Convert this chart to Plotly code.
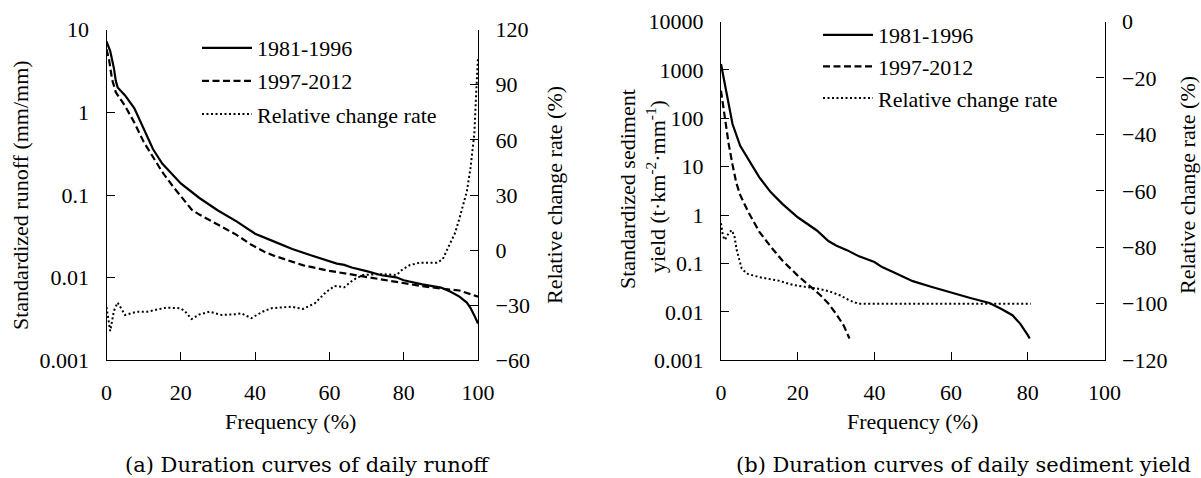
import plotly.graph_objects as go

# ---------------- data ----------------
# (a) runoff duration curves
run_freq_a = [0, 1, 2, 2.5, 3, 5, 7.5, 10, 12.5, 15, 20, 25, 30, 35, 40, 45, 50, 55, 60, 62, 64, 66,
              70, 74, 78, 80, 85, 90, 92.5, 95, 97, 98, 99, 100]
runoff_8196 = [7.2, 5.5, 3.4, 2.4, 2.0, 1.6, 1.12, 0.62, 0.36, 0.24, 0.138, 0.092, 0.065, 0.048, 0.034,
               0.0275, 0.0222, 0.0187, 0.0157, 0.0148, 0.0143, 0.0133, 0.0120, 0.0107, 0.0101, 0.0093,
               0.0083, 0.0076, 0.0068, 0.0059, 0.0050, 0.0043, 0.0035, 0.0028]
run_freq_b = [0, 0.7, 1.5, 2.5, 5, 7.5, 10, 12.5, 15, 18, 21, 23, 25, 30, 35, 39, 42.5, 45, 50, 53,
              60, 65, 70, 78, 85, 90, 95, 100]
runoff_9712 = [5.8, 4.3, 2.5, 1.75, 1.19, 0.75, 0.44, 0.29, 0.19, 0.125, 0.085, 0.066, 0.058, 0.044,
               0.033, 0.025, 0.0206, 0.0185, 0.0155, 0.0141, 0.0121, 0.0111, 0.0102, 0.0088, 0.0079,
               0.0074, 0.0070, 0.0059]
rate_freq_a = [0, 0.5, 1, 2, 3, 5, 8, 11, 13, 16, 19.7, 21, 22.9, 25, 27.8, 31, 35, 36.3, 39, 42, 44.4,
               49.8, 52.9, 56.1, 59, 61.4, 64, 66.4, 69.1, 73.6, 78.1, 79.5, 81.7, 84.4, 88.9, 90.5,
               91.6, 93.8, 95, 97, 98, 99, 99.5, 100]
rate_runoff = [-31, -38, -44, -33, -28.5, -35.3, -33.6, -33.5, -32.5, -31.3, -31.6, -33, -37.5, -35,
               -33.5, -35.3, -34.8, -34.4, -37, -33.5, -31.6, -30.8, -32, -28.9, -23, -19.5, -20.2,
               -16.2, -13.5, -13, -13.5, -10.8, -8.1, -6.8, -6.8, -5, -0.1, 9.2, 17.3, 32, 45, 63,
               85, 105]

# (b) sediment yield duration curves
sed_freq_a = [0, 1, 2, 3, 5, 7, 10, 13, 16, 20, 25, 28, 30, 33, 36, 40, 42, 45, 50, 55, 60, 65, 70,
              73, 76, 78, 80, 80.5]
sed_8196 = [1318, 509, 168, 76, 27, 14.5, 6.0, 2.95, 1.7, 0.9, 0.48, 0.29, 0.235, 0.186, 0.14,
            0.107, 0.084, 0.066, 0.043, 0.0325, 0.0248, 0.0193, 0.0152, 0.0116, 0.0085, 0.0057,
            0.0033, 0.0028]
sed_freq_b = [0, 1, 2, 3, 4, 5, 7, 10, 13, 16, 20, 23, 26, 28, 30, 32, 33.5]
sed_9712 = [370, 105, 29.5, 11, 4.6, 2.6, 1.2, 0.45, 0.22, 0.115, 0.056, 0.035, 0.0218, 0.0148,
            0.0091, 0.0052, 0.0028]
rate_freq_b = [0, 0.5, 1, 2, 2.8, 3.5, 4.1, 5.4, 6.7, 10, 15, 18.9, 25, 28, 31, 33.5, 35.8, 50, 70, 80.8]
rate_sed = [-71.5, -76, -77.4, -75, -73.9, -76, -81, -87.5, -89.3, -90.6, -91.8, -93.4, -94.6,
            -95.5, -97, -98.8, -100, -100, -100, -100]

log_ticks = [0.001, 0.01, 0.1, 1, 10, 100, 1000, 10000]
log_labels = ["0.001", "0.01", "0.1", "1", "10", "100", "1000", "10000"]
freq_ticks = [0, 20, 40, 60, 80, 100]
rate_ticks_a = [-60, -30, 0, 30, 60, 90, 120]
rate_ticks_b = [-120, -100, -80, -60, -40, -20, 0]

# ---------------- figure ----------------
W, H = 1201, 478
SERIF = "Liberation Serif, Times New Roman, serif"
FS = 22
BLACK = "#000000"

def px_x(v):
    return v / W

def px_y(v):
    return 1 - v / H

fig = go.Figure()

solid = dict(color=BLACK, width=2.2)
dashed = dict(color=BLACK, width=2.2, dash="7px,3.5px")
dotted = dict(color=BLACK, width=2, dash="2px,2.5px")

fig.add_trace(go.Scatter(x=run_freq_a, y=runoff_8196, mode="lines", line=solid, name="1981-1996",
                         xaxis="x", yaxis="y", legend="legend", legendgroup="a1"))
fig.add_trace(go.Scatter(x=run_freq_b, y=runoff_9712, mode="lines", line=dashed, name="1997-2012",
                         xaxis="x", yaxis="y", legend="legend", legendgroup="a2"))
fig.add_trace(go.Scatter(x=rate_freq_a, y=rate_runoff, mode="lines", line=dotted,
                         name="Relative change rate", xaxis="x", yaxis="y2", legend="legend",
                         legendgroup="a3"))

fig.add_trace(go.Scatter(x=sed_freq_a, y=sed_8196, mode="lines", line=solid, name="1981-1996",
                         xaxis="x2", yaxis="y3", legend="legend2", legendgroup="b1"))
fig.add_trace(go.Scatter(x=sed_freq_b, y=sed_9712, mode="lines", line=dashed, name="1997-2012",
                         xaxis="x2", yaxis="y3", legend="legend2", legendgroup="b2"))
fig.add_trace(go.Scatter(x=rate_freq_b, y=rate_sed, mode="lines", line=dotted,
                         name="Relative change rate", xaxis="x2", yaxis="y4", legend="legend2",
                         legendgroup="b3"))

axis_common = dict(showline=True, linecolor=BLACK, linewidth=1.4, ticks="inside", ticklen=8,
                   tickwidth=1.4, tickcolor=BLACK, showgrid=False, zeroline=False,
                   automargin=False,
                   tickfont=dict(family=SERIF, size=FS, color=BLACK))

left_dom = [px_x(106.5), px_x(478)]
right_dom = [px_x(721), px_x(1104.5)]
left_ydom = [px_y(360.4), px_y(29.6)]
right_ydom = [px_y(360.2), px_y(21.5)]

fig.update_layout(
    width=W, height=H,
    margin=dict(l=0, r=0, t=0, b=0, autoexpand=False),
    paper_bgcolor="white", plot_bgcolor="white",
    font=dict(family=SERIF, size=FS, color=BLACK),
    xaxis=dict(domain=left_dom, range=[0, 100], tickvals=freq_ticks, anchor="y",
               ticklabelstandoff=12, **axis_common),
    yaxis=dict(domain=left_ydom, type="log", range=[-3, 1], tickvals=log_ticks[:5],
               ticktext=log_labels[:5], anchor="x", ticklabelstandoff=12, **axis_common),
    yaxis2=dict(overlaying="y", side="right", range=[-60, 120], tickvals=rate_ticks_a,
                anchor="x", ticklabelstandoff=12, **axis_common),
    xaxis2=dict(domain=right_dom, range=[0, 100], tickvals=freq_ticks, anchor="y3",
                ticklabelstandoff=12, **axis_common),
    yaxis3=dict(domain=right_ydom, type="log", range=[-3, 4], tickvals=log_ticks,
                ticktext=log_labels, anchor="x2", ticklabelstandoff=12, **axis_common),
    yaxis4=dict(overlaying="y3", side="right", range=[-120, 0], tickvals=rate_ticks_b,
                anchor="x2", ticklabelstandoff=12, **axis_common),
    legend=dict(x=px_x(197), y=px_y(27), xanchor="left", yanchor="top",
                bgcolor="rgba(0,0,0,0)", font=dict(family=SERIF, size=FS, color=BLACK),
                traceorder="grouped", tracegroupgap=1.5, itemwidth=50),
    legend2=dict(x=px_x(818), y=px_y(14), xanchor="left", yanchor="top",
                 bgcolor="rgba(0,0,0,0)", font=dict(family=SERIF, size=FS, color=BLACK),
                 traceorder="grouped", tracegroupgap=0, itemwidth=50),
    showlegend=True,
)

annos = [
    dict(text="Standardized runoff (mm/mm)", x=px_x(20), y=px_y(195), textangle=-90),
    dict(text="Relative change rate (%)", x=px_x(554), y=px_y(195), textangle=-90),
    dict(text="Standardized sediment", x=px_x(627), y=px_y(189), textangle=-90),
    dict(text="yield (t·km<sup>-2</sup>·mm<sup>-1</sup>)", x=px_x(656), y=px_y(187), textangle=-90),
    dict(text="Relative change rate (%)", x=px_x(1187), y=px_y(185), textangle=-90),
    dict(text="Frequency (%)", x=px_x(290), y=px_y(421)),
    dict(text="Frequency (%)", x=px_x(912), y=px_y(421)),
]
for a in annos:
    fig.add_annotation(xref="paper", yref="paper", showarrow=False, xanchor="center",
                       yanchor="middle", font=dict(family=SERIF, size=FS, color=BLACK), **a)

caps = [
    dict(text="(a) Duration curves of daily runoff", x=px_x(307), y=px_y(465)),
    dict(text="(b) Duration curves of daily sediment yield", x=px_x(963), y=px_y(465)),
]
for c in caps:
    fig.add_annotation(xref="paper", yref="paper", showarrow=False, xanchor="center",
                       yanchor="middle", font=dict(family="DejaVu Serif, serif", size=21, color=BLACK),
                       **c)

# remove the default page margin so the 1201x478 figure fills the window exactly
fig.write_html("out.html", config={"displayModeBar": False},
               post_script="document.body.style.margin='0';document.body.style.overflow='hidden';")
